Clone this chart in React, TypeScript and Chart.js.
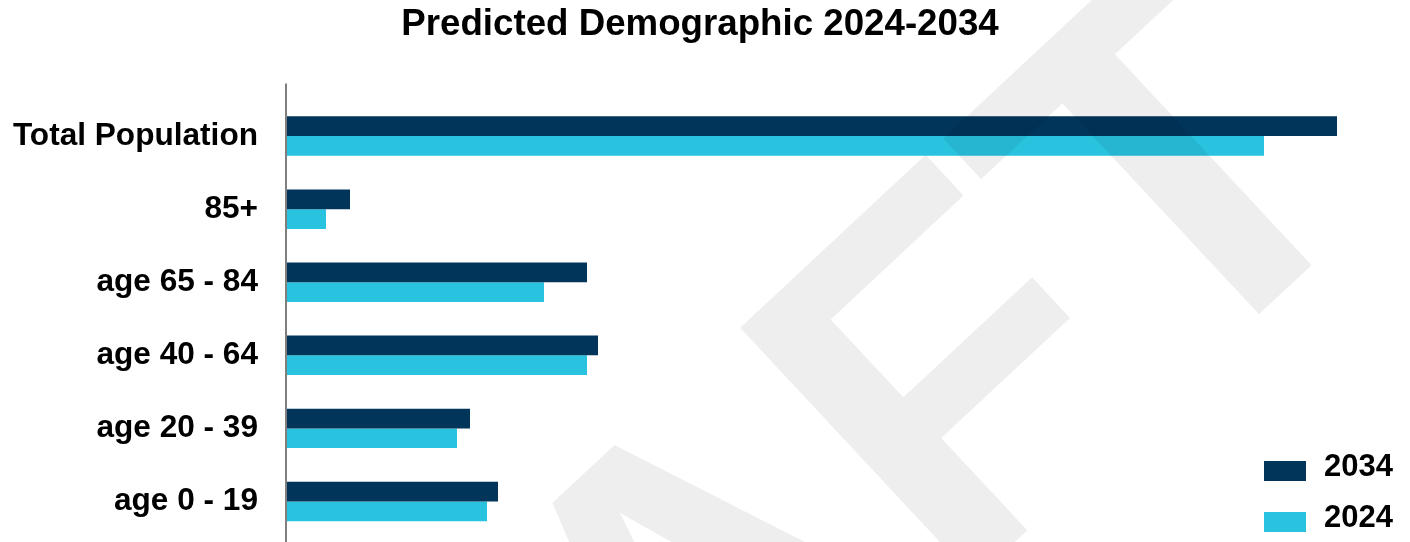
import React, { useEffect, useRef } from "react";
import { Chart, registerables } from "chart.js";

Chart.register(...registerables);

const titleText = "Predicted Demographic 2024-2034";
const categories = ["Total Population", "85+", "age 65 - 84", "age 40 - 64", "age 20 - 39", "age 0 - 19"];
const seriesNames = ["2034", "2024"];
const values2034 = [105100, 6400, 30100, 31200, 18400, 21200];
const values2024 = [97800, 4000, 25800, 30100, 17100, 20100];
const xMax = 111400;
const watermarkText = "DRAFT";

const COLORS = ["#02355A", "#29C3E0"];
const FONT = "'Liberation Sans', Arial, Helvetica, sans-serif";

const overlayPlugin = {
  id: "overlay",
  afterDraw(chart: any) {
    const { ctx, chartArea } = chart;
    ctx.save();
    // vertical axis line
    ctx.strokeStyle = "#7f7f7f";
    ctx.lineWidth = 2;
    ctx.beginPath();
    ctx.moveTo(chartArea.left, chartArea.top - 16);
    ctx.lineTo(chartArea.left, chart.height);
    ctx.stroke();

    // legend (bottom right)
    const lx = chart.width - 146;
    chart.data.datasets.forEach((ds: any, i: number) => {
      const y = chart.height - 81 + i * 51;
      ctx.fillStyle = ds.backgroundColor;
      ctx.fillRect(lx, y, 42, 20);
      ctx.fillStyle = "#000";
      ctx.font = `bold 31px ${FONT}`;
      ctx.textBaseline = "middle";
      ctx.textAlign = "left";
      ctx.fillText(ds.label, lx + 60, y + 6);
    });

    // watermark
    ctx.translate(158, 1341);
    ctx.rotate((-43 * Math.PI) / 180);
    ctx.font = `bold 500px ${FONT}`;
    ctx.fillStyle = "rgba(0,0,0,0.067)";
    ctx.textBaseline = "alphabetic";
    ctx.textAlign = "left";
    ctx.fillText(watermarkText, 0, 0);
    ctx.restore();
  },
};

export default function App() {
  const canvasRef = useRef<HTMLCanvasElement | null>(null);

  useEffect(() => {
    document.body.style.margin = "0";
    const canvas = canvasRef.current;
    if (!canvas) return;
    const chart = new Chart(canvas, {
      type: "bar",
      data: {
        labels: categories,
        datasets: [
          {
            label: seriesNames[0],
            data: values2034,
            backgroundColor: COLORS[0],
            borderWidth: 0,
            barPercentage: 1,
            categoryPercentage: 0.54,
          },
          {
            label: seriesNames[1],
            data: values2024,
            backgroundColor: COLORS[1],
            borderWidth: 0,
            barPercentage: 1,
            categoryPercentage: 0.54,
          },
        ],
      },
      options: {
        indexAxis: "y",
        animation: false,
        responsive: true,
        maintainAspectRatio: false,
        layout: { padding: { left: 0, right: 10, top: 0, bottom: 4 } },
        plugins: {
          legend: { display: false },
          tooltip: { enabled: false },
          title: {
            display: true,
            text: titleText,
            color: "#000",
            font: { family: FONT, size: 36.7, weight: "bold" },
            padding: { top: 3, bottom: 52.5 },
          },
        },
        scales: {
          x: {
            display: false,
            min: 0,
            max: xMax,
          },
          y: {
            grid: { display: false, drawTicks: false },
            border: { display: false },
            ticks: {
              color: "#000",
              font: { family: FONT, size: 31.6, weight: "bold" },
              padding: 28,
            },
            afterFit(scale: any) {
              scale.width = 286;
              scale.paddingTop = 0;
              scale.paddingBottom = 0;
            },
          },
        },
      },
      plugins: [overlayPlugin],
    });
    return () => chart.destroy();
  }, []);

  return (
    <div style={{ position: "relative", width: "1410px", height: "542px", background: "#fff" }}>
      <canvas ref={canvasRef} />
    </div>
  );
}
